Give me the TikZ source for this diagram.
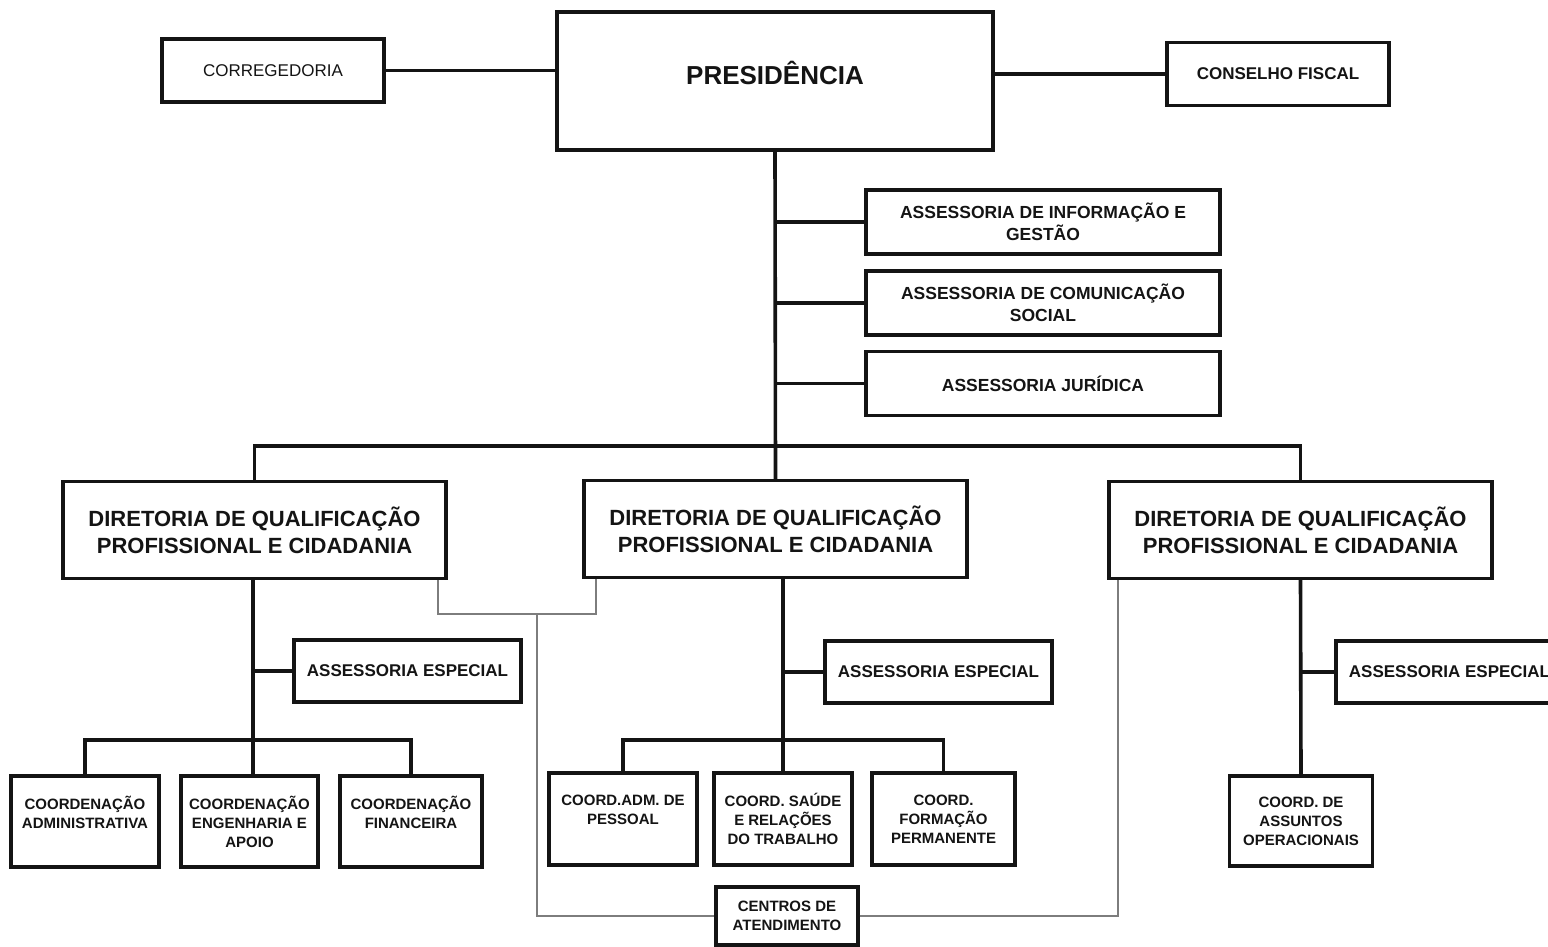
\documentclass[tikz,border=0pt]{standalone}
\usepackage{fontspec}
\setmainfont{Liberation Sans}
\usetikzlibrary{positioning,calc}
\definecolor{ink}{RGB}{20,20,20}
\definecolor{wire}{RGB}{125,125,125}
\tikzset{
  box/.style={draw=ink, fill=white, line width=3.4pt, inner sep=0pt, align=center,
    text=ink, font=\bfseries\fontsize{17}{22}\selectfont},
  presbox/.style={box, minimum width=436pt, minimum height=138pt,
    font=\bfseries\fontsize{26}{30}\selectfont, text depth=16pt},
  sidebox/.style={box, minimum width=222pt, minimum height=63pt},
  dirbox/.style={box, minimum width=383pt, minimum height=97pt,
    font=\bfseries\fontsize{22}{27}\selectfont},
  asbox/.style={box, minimum width=354pt, minimum height=64pt,
    font=\bfseries\fontsize{17.5}{22}\selectfont},
  espbox/.style={box, minimum width=227pt, minimum height=62pt},
  coordbox/.style={box, minimum height=91pt, font=\bfseries\fontsize{15}{19}\selectfont},
  link/.style={draw=ink, line width=3.6pt},
  thinlink/.style={draw=wire, line width=1.8pt},
}
\begin{document}
\begin{tikzpicture}[x=1pt,y=-1pt]
  \useasboundingbox (0,0) rectangle (1548,947);
  % top level
  \node[presbox] (pres) at (775,81) {PRESID\^ENCIA};
  \node[sidebox, font=\fontsize{17}{22}\selectfont] (correg) at (273,70.5) {CORREGEDORIA};
  \node[sidebox] (fiscal) at (1278,74) {CONSELHO FISCAL};
  % assessorias da presidencia
  \node[asbox] (ainf) at (1043,222) {ASSESSORIA DE INFORMAÇÃO E\\GESTÃO};
  \node[asbox] (acom) at (1043,303) {ASSESSORIA DE COMUNICAÇÃO\\SOCIAL};
  \node[asbox] (ajur) at (1043,383.5) {ASSESSORIA JURÍDICA};
  % diretorias
  \node[dirbox] (dir1) at (254.5,530) {DIRETORIA DE QUALIFICAÇÃO\\PROFISSIONAL E CIDADANIA};
  \node[dirbox] (dir2) at (775.5,529) {DIRETORIA DE QUALIFICAÇÃO\\PROFISSIONAL E CIDADANIA};
  \node[dirbox] (dir3) at (1300.5,530) {DIRETORIA DE QUALIFICAÇÃO\\PROFISSIONAL E CIDADANIA};
  \node[espbox] (esp1) at (407.5,671) {ASSESSORIA ESPECIAL};
  \node[espbox] (esp2) at (938.5,672) {ASSESSORIA ESPECIAL};
  \node[espbox] (esp3) at (1449.5,672) {ASSESSORIA ESPECIAL};
  % coordenacoes
  \node[coordbox, minimum width=148pt] (cadm) at (85,821.5) {COORDENAÇÃO\\ADMINISTRATIVA\\\mbox{}};
  \node[coordbox, minimum width=137pt] (ceng) at (249.5,821.5) {COORDENAÇÃO\\ENGENHARIA E\\APOIO};
  \node[coordbox, minimum width=142pt] (cfin) at (411,821.5) {COORDENAÇÃO\\FINANCEIRA\\\mbox{}};
  \node[coordbox, minimum width=148pt, minimum height=92pt] (cpes) at (623,819) {COORD.ADM. DE\\PESSOAL\\\mbox{}};
  \node[coordbox, minimum width=138pt, minimum height=92pt] (csau) at (783,819) {COORD. SAÚDE\\E RELAÇÕES\\DO TRABALHO};
  \node[coordbox, minimum width=143pt, minimum height=92pt] (cfor) at (943.5,819) {COORD.\\FORMAÇÃO\\PERMANENTE};
  \node[coordbox, minimum width=143pt, minimum height=90pt] (cope) at (1301,821) {COORD. DE\\ASSUNTOS\\OPERACIONAIS};
  \node[coordbox, minimum width=142pt, minimum height=58pt] (cent) at (787,916) {CENTROS DE\\ATENDIMENTO};
  % ligacoes
  \coordinate (bus) at (775,446);
  \coordinate (bus1) at (253,740);
  \coordinate (bus2) at (783,740);
  \coordinate (g1) at (537,614);
  \draw[link] (correg.east) -- (correg.east -| pres.west);
  \draw[link] (pres.east |- fiscal.west) -- (fiscal.west);
  \draw[link] (pres.south) -- (dir2.north);
  \foreach \a in {ainf,acom,ajur}
    \draw[link] (pres.south |- \a.west) -- (\a.west);
  \draw[link] (dir1.north) |- (bus) -| (dir3.north);
  \draw[link] (dir1.south -| bus1) -- (bus1);
  \draw[link] (bus1 |- esp1.west) -- (esp1.west);
  \draw[link] (cadm.north) |- (bus1) -| (cfin.north);
  \draw[link] (bus1) -- (bus1 |- ceng.north);
  \draw[link] (bus2 |- dir2.south) -- (bus2);
  \draw[link] (bus2 |- esp2.west) -- (esp2.west);
  \draw[link] (cpes.north) |- (bus2) -| (cfor.north);
  \draw[link] (bus2) -- (csau.north);
  \draw[link] (dir3.south) -- (cope.north);
  \draw[link] (dir3.south |- esp3.west) -- (esp3.west);
  % centros de atendimento
  \draw[thinlink] ([xshift=-10pt]dir1.south east) |- (g1) -| ([xshift=14pt]dir2.south west);
  \draw[thinlink] (g1) |- (cent.west);
  \draw[thinlink] (cent.east) -| ([xshift=11pt]dir3.south west);
\end{tikzpicture}
\end{document}
